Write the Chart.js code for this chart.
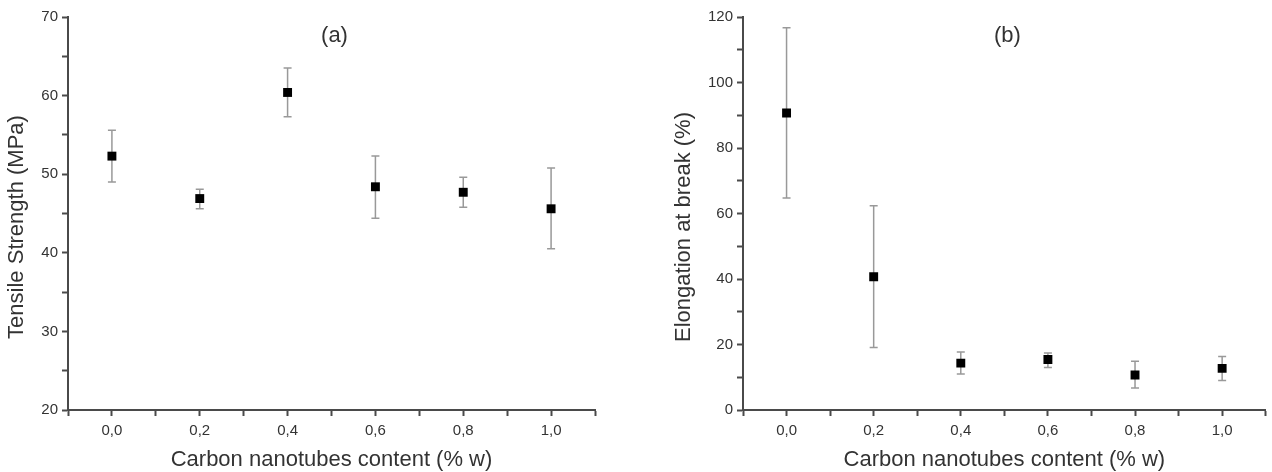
<!DOCTYPE html>
<html>
<head>
<meta charset="utf-8">
<script src="https://cdn.jsdelivr.net/npm/chart.js@4/dist/chart.umd.min.js"></script>
<style>
  body { margin: 0; background: #fff; width: 1272px; height: 472px; position: relative; overflow: hidden; }
  canvas { position: absolute; top: 0; }
  #chartA { left: 0; }
  #chartB { left: 667px; }
</style>
</head>
<body>
<canvas id="chartA" width="620" height="472"></canvas>
<canvas id="chartB" width="605" height="472"></canvas>
<script>
// carbon nanotube content (% w)
const contents = [0.0, 0.2, 0.4, 0.6, 0.8, 1.0];

// (a) tensile strength, MPa
const tensileMean = [52.3, 46.9, 60.4, 48.4, 47.7, 45.6];
const tensileHigh = [55.6, 48.1, 63.5, 52.3, 49.6, 50.8];
const tensileLow  = [49.0, 45.6, 57.3, 44.4, 45.8, 40.5];

// (b) elongation at break, %
const elongMean = [90.7, 40.7, 14.3, 15.4, 10.7, 12.7];
const elongHigh = [116.7, 62.4, 17.7, 17.4, 14.9, 16.3];
const elongLow  = [64.7, 19.1, 11.0, 13.0, 6.7, 9.0];

const xLabelTicks = [0.0, 0.2, 0.4, 0.6, 0.8, 1.0];
const tensileLabelTicks = [20, 30, 40, 50, 60, 70];
const elongLabelTicks = [0, 20, 40, 60, 80, 100, 120];

const FONT = "'Liberation Sans', Arial, sans-serif";
const axisColor = '#4a4a4a';
const textColor = '#333';

// draws the error bars with caps, from the high/low arrays
const errorBars = {
  id: 'errorBars',
  beforeDatasetsDraw(chart, args, opts) {
    const ctx = chart.ctx;
    const xs = chart.scales.x, ys = chart.scales.y;
    ctx.save();
    ctx.strokeStyle = '#999';
    ctx.lineWidth = 1.5;
    opts.x.forEach((xv, i) => {
      const px = xs.getPixelForValue(xv);
      const top = ys.getPixelForValue(opts.high[i]);
      const bot = ys.getPixelForValue(opts.low[i]);
      ctx.beginPath();
      ctx.moveTo(px, top); ctx.lineTo(px, bot);
      ctx.moveTo(px - 4, top); ctx.lineTo(px + 4, top);
      ctx.moveTo(px - 4, bot); ctx.lineTo(px + 4, bot);
      ctx.stroke();
    });
    ctx.restore();
  }
};

// panel letter and rotated y title
const labels = {
  id: 'labels',
  afterDraw(chart, args, opts) {
    const ctx = chart.ctx;
    const area = chart.chartArea;
    ctx.save();
    ctx.fillStyle = textColor;
    ctx.textAlign = 'center';
    ctx.textBaseline = 'middle';
    ctx.font = '22px ' + FONT;
    ctx.fillText(opts.panel, (area.left + area.right) / 2 + 3, 36);
    ctx.translate(17, 227);
    ctx.rotate(-Math.PI / 2);
    ctx.font = '22px ' + FONT;
    ctx.fillText(opts.yTitle, 0, 0);
    ctx.restore();
  }
};

function makeChart(id, mean, high, low, yMin, yMax, yStep, yLabels, yTitle, panel, yWidth, padRight) {
  const ctx = document.getElementById(id).getContext('2d');
  return new Chart(ctx, {
    type: 'scatter',
    data: {
      datasets: [{
        data: contents.map((c, i) => ({ x: c, y: mean[i] })),
        pointStyle: 'rect',
        pointRadius: 6.3,
        pointHoverRadius: 6.3,
        backgroundColor: '#000',
        borderColor: '#000',
        borderWidth: 0
      }]
    },
    options: {
      responsive: false,
      animation: false,
      layout: { padding: { top: 17, right: padRight, left: 0, bottom: 0 } },
      plugins: {
        legend: { display: false },
        tooltip: { enabled: false },
        errorBars: { x: contents, high: high, low: low },
        labels: { panel: panel, yTitle: yTitle }
      },
      scales: {
        x: {
          type: 'linear',
          min: -0.1,
          max: 1.1,
          afterFit: s => { s.height = 62; },
          border: { color: axisColor, width: 2 },
          grid: { drawOnChartArea: false, drawTicks: true, tickLength: 6, tickColor: axisColor, tickWidth: 2 },
          ticks: {
            stepSize: 0.1,
            padding: 6,
            color: textColor,
            font: { family: FONT, size: 15 },
            maxRotation: 0,
            autoSkip: false,
            callback: v => {
              const hit = xLabelTicks.find(t => Math.abs(t - v) < 1e-6);
              return hit === undefined ? '' : hit.toFixed(1).replace('.', ',');
            }
          },
          title: {
            display: true,
            text: 'Carbon nanotubes content (% w)',
            color: textColor,
            font: { family: FONT, size: 22 },
            padding: { top: 0, bottom: -1 }
          }
        },
        y: {
          min: yMin,
          max: yMax,
          afterFit: s => { s.width = yWidth; },
          border: { color: axisColor, width: 2 },
          grid: { drawOnChartArea: false, drawTicks: true, tickLength: 6, tickColor: axisColor, tickWidth: 2 },
          ticks: {
            stepSize: yStep,
            padding: 4,
            color: textColor,
            font: { family: FONT, size: 15 },
            autoSkip: false,
            callback: v => (yLabels.includes(v) ? String(v) : '')
          }
        }
      }
    },
    plugins: [errorBars, labels]
  });
}

makeChart('chartA', tensileMean, tensileHigh, tensileLow, 20, 70, 5, tensileLabelTicks,
  'Tensile Strength (MPa)', '(a)', 68, 25);
makeChart('chartB', elongMean, elongHigh, elongLow, 0, 120, 10, elongLabelTicks,
  'Elongation at break (%)', '(b)', 76, 2);
</script>
</body>
</html>
